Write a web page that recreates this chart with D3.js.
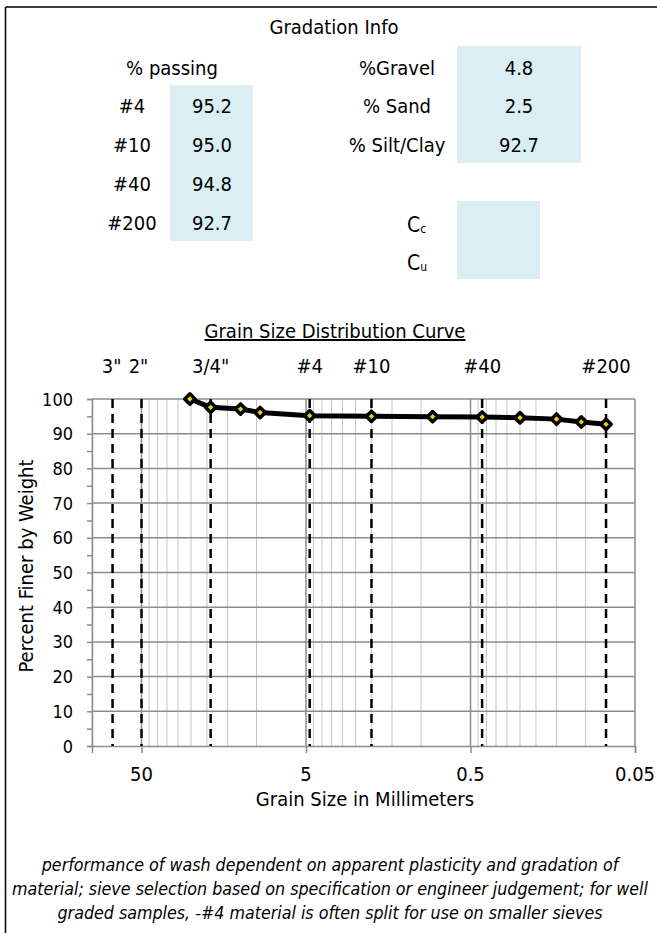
<!DOCTYPE html>
<html>
<head>
<meta charset="utf-8">
<script src="https://cdn.jsdelivr.net/npm/d3@7"></script>
<style>
  html, body { margin: 0; padding: 0; background: #fff; }
  svg { display: block; font-family: "DejaVu Sans Condensed", "DejaVu Sans", sans-serif; font-stretch: condensed; }
</style>
</head>
<body>
<svg id="chart" width="657" height="933"></svg>
<script>
// Summary table
const passingSieves = ["#4", "#10", "#40", "#200"];
const passingValues = ["95.2", "95.0", "94.8", "92.7"];
const fractionLabels = ["%Gravel", "% Sand", "% Silt/Clay"];
const fractionValues = ["4.8", "2.5", "92.7"];

// Gradation curve: sieve opening (mm) vs. percent passing
const grainSizes = [25.4, 19.0, 12.5, 9.5, 4.75, 2.0, 0.85, 0.425, 0.25, 0.15, 0.106, 0.075];
const percentFiner = [100, 97.6, 97.1, 96.1, 95.2, 95.0, 94.9, 94.8, 94.6, 94.2, 93.4, 92.7];

// Reference sieves drawn as dashed verticals
const refSieveLabels = ['3"', '2"', '3/4"', "#4", "#10", "#40", "#200"];
const refSieveSizes = [75, 50, 19, 4.75, 2.0, 0.425, 0.075];

const xTickValues = [50, 5, 0.5, 0.05];
const yTickValues = [0, 10, 20, 30, 40, 50, 60, 70, 80, 90, 100];

const notes = [
  "performance of wash dependent on apparent plasticity and gradation of",
  "material; sieve selection based on specification or engineer judgement; for well",
  "graded samples, -#4 material is often split for use on smaller sieves"
];

const svg = d3.select("#chart");
const boxFill = "#daeef3";
const FS = 20;

// Frame
svg.append("line").attr("x1", 5.5).attr("x2", 657).attr("y1", 7).attr("y2", 7)
  .attr("stroke", "#000").attr("stroke-width", 1.5);
svg.append("line").attr("x1", 5.5).attr("x2", 5.5).attr("y1", 7).attr("y2", 933)
  .attr("stroke", "#000").attr("stroke-width", 1.5);

// ---- Gradation info block ----
svg.append("text").attr("x", 334).attr("y", 34).attr("text-anchor", "middle")
  .attr("font-size", FS).text("Gradation Info");

svg.append("text").attr("x", 172).attr("y", 75).attr("text-anchor", "middle")
  .attr("font-size", FS).text("% passing");

const rowY = [113, 152, 191, 230];
svg.append("rect").attr("x", 170).attr("y", 85).attr("width", 83).attr("height", 156).attr("fill", boxFill);
passingSieves.forEach((s, i) => {
  svg.append("text").attr("x", 132).attr("y", rowY[i]).attr("text-anchor", "middle")
    .attr("font-size", FS).text(s);
  svg.append("text").attr("x", 212).attr("y", rowY[i]).attr("text-anchor", "middle")
    .attr("font-size", FS).text(passingValues[i]);
});

const fracY = [75, 113, 152];
svg.append("rect").attr("x", 457).attr("y", 46).attr("width", 124).attr("height", 117).attr("fill", boxFill);
fractionLabels.forEach((s, i) => {
  svg.append("text").attr("x", 397).attr("y", fracY[i]).attr("text-anchor", "middle")
    .attr("font-size", FS).text(s);
  svg.append("text").attr("x", 519).attr("y", fracY[i]).attr("text-anchor", "middle")
    .attr("font-size", FS).text(fractionValues[i]);
});

svg.append("rect").attr("x", 457).attr("y", 201).attr("width", 83).attr("height", 78).attr("fill", boxFill);
[["C", "c", 232], ["C", "u", 270]].forEach(([b, s, yy]) => {
  const t = svg.append("text").attr("x", 407).attr("y", yy).attr("font-size", 21);
  t.append("tspan").text(b);
  t.append("tspan").attr("font-size", 12).attr("dy", 1).text(s);
});

// ---- Grain size distribution chart ----
const x = d3.scaleLog().domain([100, 0.05]).range([92, 635]);
const y = d3.scaleLinear().domain([0, 100]).range([746, 399]);

svg.append("text").attr("x", 335).attr("y", 338).attr("text-anchor", "middle")
  .attr("font-size", FS).attr("text-decoration", "underline").text("Grain Size Distribution Curve");

// minor vertical gridlines
const minorX = [];
[0.05, 0.5, 5, 50].forEach(b => {
  for (let k = 2; k <= 9; k++) {
    const v = b * k;
    if (v <= 100 + 1e-9 && ![0.5, 5, 50].some(m => Math.abs(m - v) < 1e-9)) minorX.push(v);
  }
});
svg.append("g").selectAll("line").data(minorX).join("line")
  .attr("x1", d => x(d)).attr("x2", d => x(d))
  .attr("y1", y(100)).attr("y2", y(0))
  .attr("stroke", "#c6c6c6").attr("stroke-width", 1);

// major vertical gridlines
svg.append("g").selectAll("line").data([50, 5, 0.5, 0.05]).join("line")
  .attr("x1", d => x(d)).attr("x2", d => x(d))
  .attr("y1", y(100)).attr("y2", y(0))
  .attr("stroke", "#8c8c8c").attr("stroke-width", 1.5);

// horizontal gridlines
svg.append("g").selectAll("line").data(yTickValues.filter(v => v > 0)).join("line")
  .attr("x1", x(100)).attr("x2", x(0.05))
  .attr("y1", d => y(d)).attr("y2", d => y(d))
  .attr("stroke", "#8c8c8c").attr("stroke-width", 1.5);

// Y axis
const yAxis = d3.axisLeft(y).tickValues(d3.range(0, 101, 5)).tickSize(5).tickFormat("");
const gy = svg.append("g").attr("transform", `translate(${x(100)},0)`).call(yAxis);
gy.select(".domain").attr("stroke", "#8c8c8c").attr("stroke-width", 1.5);
gy.selectAll(".tick line").attr("stroke", "#8c8c8c").attr("stroke-width", 1.5);
svg.append("g").selectAll("text").data(yTickValues).join("text")
  .attr("x", 73).attr("y", d => y(d) + 6.5).attr("text-anchor", "end")
  .attr("font-size", 18).text(d => d);

// X axis
const xAxis = d3.axisBottom(x).tickValues(xTickValues).tickSize(7).tickFormat("");
const gx = svg.append("g").attr("transform", `translate(0,${y(0)})`).call(xAxis);
gx.select(".domain").attr("stroke", "#8c8c8c").attr("stroke-width", 1.5);
gx.selectAll(".tick line").attr("stroke", "#8c8c8c").attr("stroke-width", 1.5);
svg.append("g").selectAll("text").data(xTickValues).join("text")
  .attr("x", d => x(d)).attr("y", 781).attr("text-anchor", "middle")
  .attr("font-size", FS).text(d => d);

svg.append("text").attr("x", 365).attr("y", 806).attr("text-anchor", "middle")
  .attr("font-size", FS).text("Grain Size in Millimeters");
svg.append("text").attr("transform", "translate(33,566) rotate(-90)").attr("text-anchor", "middle")
  .attr("font-size", FS).text("Percent Finer by Weight");

// reference sieve dashed lines + labels
svg.append("g").selectAll("line").data(refSieveSizes).join("line")
  .attr("x1", d => x(d)).attr("x2", d => x(d))
  .attr("y1", y(100)).attr("y2", y(0))
  .attr("stroke", "#000").attr("stroke-width", 2.5).attr("stroke-dasharray", "9,6");
const labelOffsets = [-1, -3, 0, 0, 0, 0, 0];
svg.append("g").selectAll("text").data(refSieveSizes).join("text")
  .attr("x", (d, i) => x(d) + labelOffsets[i]).attr("y", 373).attr("text-anchor", "middle")
  .attr("font-size", FS).text((d, i) => refSieveLabels[i]);

// gradation curve
const pts = grainSizes.map((g, i) => [x(g), y(percentFiner[i])]);
svg.append("path").attr("d", d3.line()(pts))
  .attr("fill", "none").attr("stroke", "#000").attr("stroke-width", 5)
  .attr("stroke-linejoin", "round");
const diamond = d3.symbol().type(d3.symbolDiamond2).size(68);
svg.append("g").selectAll("path").data(pts).join("path")
  .attr("transform", d => `translate(${d[0]},${d[1]})`)
  .attr("d", diamond)
  .attr("fill", "#e8d800").attr("stroke", "#000").attr("stroke-width", 3.5)
  .attr("stroke-linejoin", "round");

// notes
svg.append("g").selectAll("text").data(notes).join("text")
  .attr("x", 330).attr("y", (d, i) => 871 + i * 24).attr("text-anchor", "middle")
  .attr("font-size", 17.7).attr("font-style", "italic").text(d => d);
</script>
</body>
</html>
